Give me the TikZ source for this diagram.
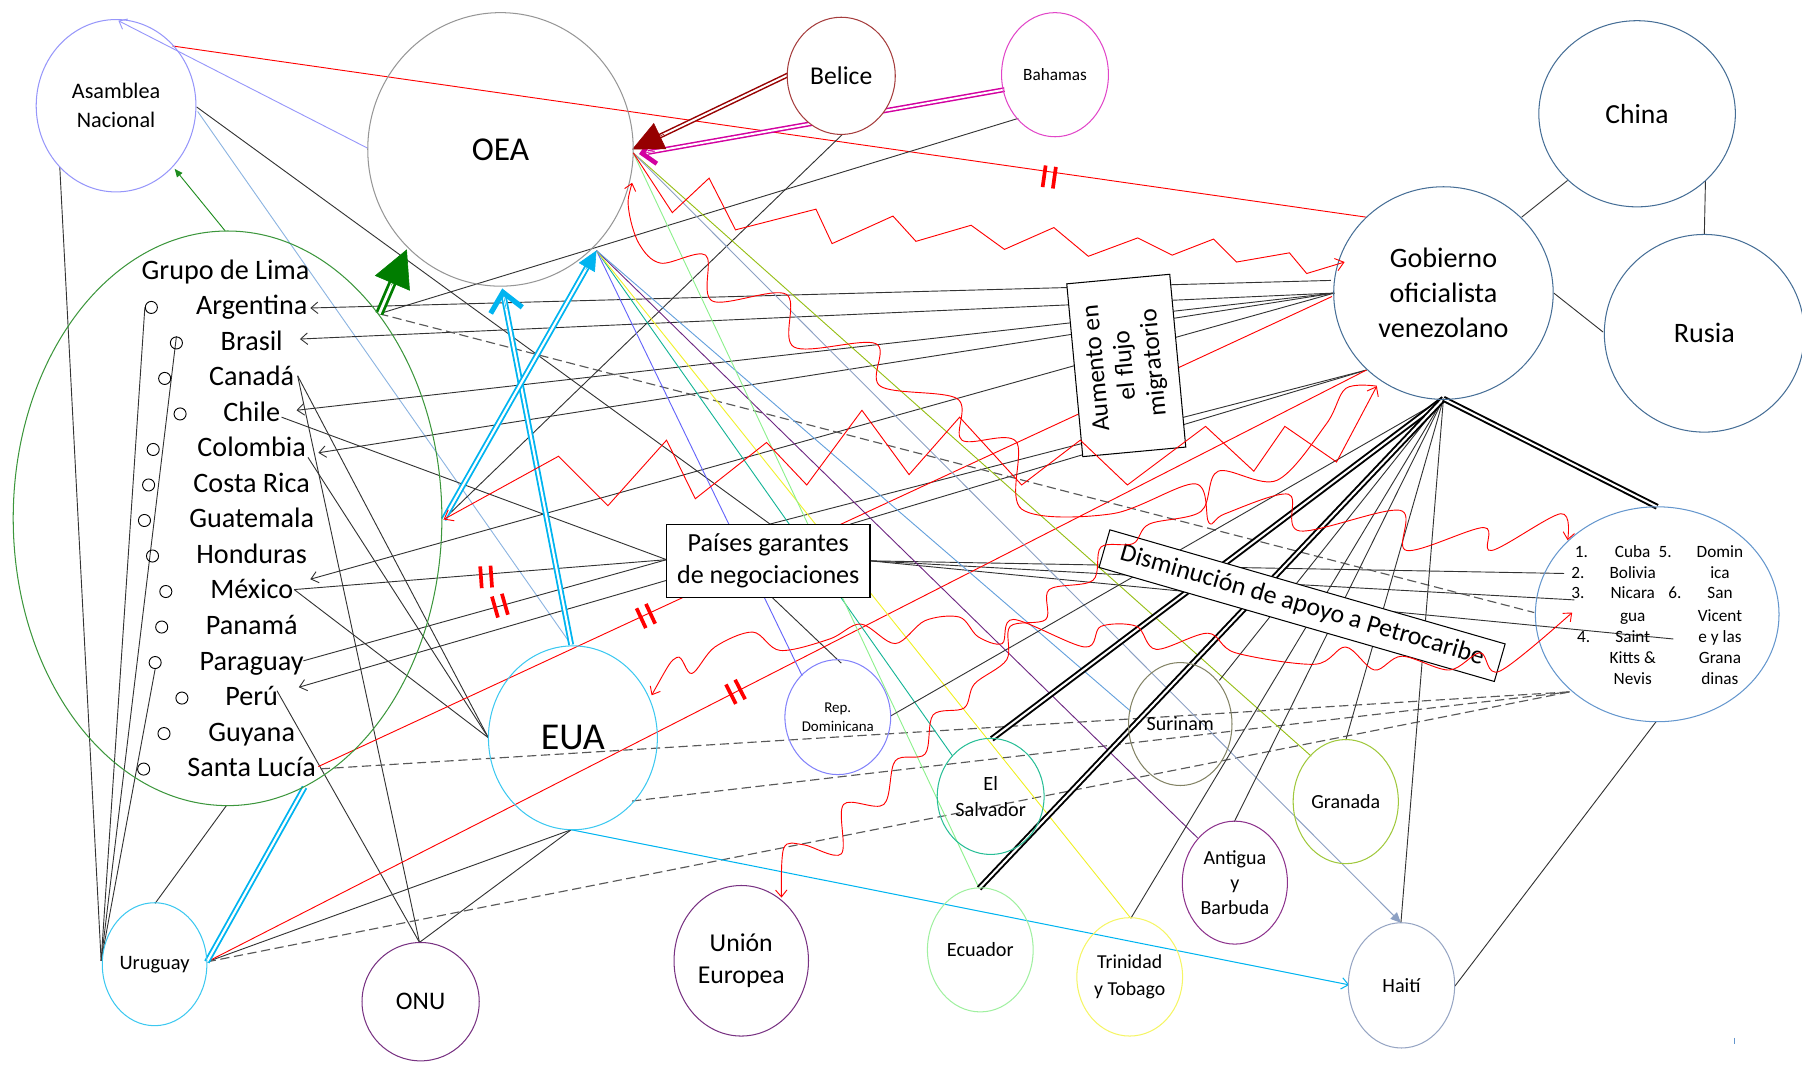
\documentclass[tikz,border=0pt]{standalone}
\usepackage{fontspec}
\setmainfont{Carlito}
\usetikzlibrary{shapes.geometric,arrows.meta,calc}
\pgfdeclarelayer{bg}
\pgfdeclarelayer{fg}
\pgfsetlayers{bg,main,fg}
\newcommand\fsz[2]{\fontsize{#1}{#2}\selectfont}
\definecolor{asamc}{RGB}{150,150,250}
\definecolor{oeac}{RGB}{150,150,150}
\definecolor{belc}{RGB}{165,60,60}
\definecolor{bahc}{RGB}{225,70,200}
\definecolor{govc}{RGB}{70,110,150}
\definecolor{petc}{RGB}{100,150,205}
\definecolor{grupoc}{RGB}{60,150,60}
\definecolor{euac}{RGB}{60,200,240}
\definecolor{repc}{RGB}{130,130,250}
\definecolor{elsc}{RGB}{40,190,150}
\definecolor{surc}{RGB}{130,130,100}
\definecolor{grac}{RGB}{160,200,60}
\definecolor{antc}{RGB}{140,50,140}
\definecolor{ecuc}{RGB}{160,240,160}
\definecolor{tric}{RGB}{245,245,100}
\definecolor{haic}{RGB}{150,165,195}
\definecolor{uec}{RGB}{120,50,130}
\definecolor{lav}{RGB}{150,150,250}
\definecolor{lblueL}{RGB}{140,180,225}
\definecolor{blueL}{RGB}{100,100,250}
\definecolor{tealL}{RGB}{20,180,150}
\definecolor{yelL}{RGB}{240,240,40}
\definecolor{purL}{RGB}{110,40,130}
\definecolor{steelL}{RGB}{100,160,220}
\definecolor{lgreenL}{RGB}{140,240,140}
\definecolor{ygreenL}{RGB}{150,190,20}
\definecolor{gblueL}{RGB}{140,160,195}
\definecolor{cyanL}{RGB}{0,180,240}
\definecolor{darkred}{RGB}{150,0,0}
\definecolor{mag}{RGB}{210,0,160}
\definecolor{dgreen}{RGB}{0,125,0}
\definecolor{lgreen}{RGB}{30,140,30}
\begin{document}
\begin{tikzpicture}[x=1pt,y=-1pt,
  ell/.style={ellipse, draw, line width=0.9pt, inner sep=0pt, align=center},
  box/.style={rectangle, draw, fill=white, line width=0.9pt, inner sep=0pt, align=center},
  ln/.style={draw=black!80, line width=0.8pt},
  redl/.style={draw=red, line width=0.8pt},
  dashln/.style={draw=black!65, line width=1pt, dash pattern=on 8pt off 4pt},
  dblS/.style={double=white, line width=1.3pt, double distance=1.7pt},
  dblC/.style={double=white, line width=1.6pt, double distance=1.9pt},
  dblk/.style={draw=black, double=white, line width=1.7pt, double distance=1.8pt},
  barb/.style={-{Straight Barb[length=6pt,width=10pt]}},
  bbarb/.style={{Straight Barb[length=6pt,width=10pt]}-{Straight Barb[length=6pt,width=10pt]}},
  hh/.pic={\draw[red, line width=3.2pt] (-4.5,-9.5) -- (-4.5,9.5) (4.5,-9.5) -- (4.5,9.5);}
]
\useasboundingbox (0,0) rectangle (1568,926);

% ---------- nodes ----------
\node[ell, draw=asamc, minimum width=139pt, minimum height=150pt, font=\fsz{19.3}{25}] (asam) at (101,92) {Asamblea\\Nacional};
\node[ell, draw=oeac, minimum width=231pt, minimum height=238pt, font=\fsz{29}{34}] (oea) at (435.5,130) {OEA};
\node[ell, draw=belc, fill=white, minimum width=94pt, minimum height=102pt, font=\fsz{22.3}{27}] (bel) at (732,66) {Belice};
\node[ell, draw=bahc, minimum width=93pt, minimum height=108pt, font=\fsz{15}{18}] (bah) at (918,65) {Bahamas};
\node[ell, draw=govc, minimum width=171pt, minimum height=162pt, font=\fsz{24}{29}] (china) at (1424.5,99) {China};
\node[ell, draw=govc, minimum width=174pt, minimum height=172pt, font=\fsz{24.5}{29}] (rusia) at (1483,290) {Rusia};
\node[ell, draw=govc, minimum width=191pt, minimum height=185pt, font=\fsz{24.5}{30.5}] (gob) at (1256,255) {Gobierno\\oficialista\\venezolano};
\node[ell, draw=petc, minimum width=212pt, minimum height=187pt] (petro) at (1442,534.5) {};
\node[ell, draw=grupoc, minimum width=373pt, minimum height=500pt] (grupo) at (198,451) {};
\node[ell, draw=euac, minimum width=147pt, minimum height=160pt, font=\fsz{33}{38}] (eua) at (498.5,642) {EUA};
\node[ell, draw=repc, minimum width=92pt, minimum height=100pt, font=\fsz{13}{17}] (repdom) at (729,624) {Rep.\\Dominicana};
\node[ell, draw=elsc, minimum width=93pt, minimum height=101pt, font=\fsz{17.6}{22}] (elsal) at (862,693) {El\\Salvador};
\node[ell, draw=surc, minimum width=90pt, minimum height=107pt, font=\fsz{17.4}{21}] (surinam) at (1027,630) {Surinam};
\node[ell, draw=grac, minimum width=91.5pt, minimum height=108pt, font=\fsz{17.4}{21}] (granada) at (1171,697.5) {Granada};
\node[ell, draw=antc, minimum width=91.5pt, minimum height=107pt, font=\fsz{17.4}{21.5}] (antigua) at (1074.5,768) {Antigua\\y\\Barbuda};
\node[ell, draw=ecuc, minimum width=92pt, minimum height=108pt, font=\fsz{17.6}{21}] (ecuador) at (853,826.5) {Ecuador};
\node[ell, draw=tric, minimum width=92pt, minimum height=103pt, font=\fsz{17.2}{23}] (trinidad) at (983,850) {Trinidad\\y Tobago};
\node[ell, draw=haic, minimum width=92.5pt, minimum height=109pt, font=\fsz{17.6}{21}] (haiti) at (1219.5,857.4) {Haití};
\node[ell, draw=uec, minimum width=117pt, minimum height=131pt, font=\fsz{22.4}{28}] (ue) at (645,836) {Unión\\Europea};
\node[ell, draw=uec, minimum width=102pt, minimum height=103pt, font=\fsz{22}{26}] (onu) at (366,871.6) {ONU};
\node[ell, draw=euac, minimum width=91pt, minimum height=107pt, font=\fsz{17.8}{21}] (uru) at (134.5,839) {Uruguay};

\node[box, minimum width=177pt, minimum height=64pt, font=\fsz{22.7}{28}] (pg) at (668.5,488) {Países garantes\\de negociaciones};
\node[box, rotate=95.3, minimum width=151pt, minimum height=90pt, font=\fsz{22}{25}] (aum) at (980,318) {Aumento en\\el flujo\\migratorio};
\node[box, rotate=-16.1, minimum width=358pt, minimum height=34pt, font=\fsz{22.5}{27}] (dism) at (1133,527) {Disminución de apoyo a Petrocaribe};

\node[anchor=base, font=\fsz{24.5}{29}, inner sep=0pt] (gtitle) at (196.3,243) {Grupo de Lima};
\foreach \t/\cx [count=\i] in {Argentina/131.7, Brasil/153.5, Canadá/143.3, Chile/156.7, Colombia/133.3, Costa Rica/129.3, Guatemala/125.7, Honduras/132.7, México/144.3, Panamá/140.7, Paraguay/135, Perú/158.3, Guyana/142.7, Santa Lucía/125}{
  \pgfmathsetmacro\yy{266+30.9*(\i-1)}
  \node[anchor=base, font=\fsz{24.5}{29}, inner sep=0pt] (l\i) at (219,\yy+8) {\t};
  \node[circle, draw, line width=0.8pt, minimum size=10.5pt, inner sep=0pt] (c\i) at (\cx,\yy+1.5) {};
}
\foreach \t/\x/\y [count=\i] in {1./1376/480, Cuba/1420.7/480, 5./1449/480, Domin/1496.6/480,
  2./1373/498, Bolivia/1420.7/498, ica/1496.6/498,
  3./1373/516, Nicara/1420.7/516, 6./1457.5/516, San/1496.6/516,
  gua/1420.7/535.6, Vicent/1496.6/535.6,
  4./1378/554, Saint/1420.7/554, e y las/1496.6/554,
  Kitts \&/1420.7/572, Grana/1496.6/572,
  Nevis/1420.7/591, dinas/1496.6/591}{
  \node[anchor=base, font=\fsz{15}{18}, inner sep=0pt] (pt\i) at (\x,\y+5) {\t};
}

% ---------- attachment points ----------
\coordinate (asTop) at (103,18);
\coordinate (asR1) at (150,40);
\coordinate (asR2) at (171,93);
\coordinate (asR3) at (172,97);
\coordinate (asBL) at (52,145);
\coordinate (asB) at (152,147);
\coordinate (oeaL) at (320,129);
\coordinate (oeaR) at (551,133);
\coordinate (oeaB) at (519,218);
\coordinate (oeaBot) at (437,251);
\coordinate (oeaW) at (550,159);
\coordinate (oeaG) at (354,217);
\coordinate (oeaM) at (556,134);
\coordinate (oeaD) at (550,130);
\coordinate (belL) at (686,65);
\coordinate (belB) at (733,117);
\coordinate (bahL) at (874,78);
\coordinate (bahBL) at (886,103);
\coordinate (grTop) at (196,201);
\coordinate (grA) at (330,273);
\coordinate (grR) at (386,452);
\coordinate (grBot) at (197,701);
\coordinate (grBR) at (265,685);
\coordinate (uruL) at (88,836);
\coordinate (uruTop) at (135,786);
\coordinate (uruR) at (180,837);
\coordinate (euaTop) at (497,561);
\coordinate (euaL) at (425,642);
\coordinate (euaBot) at (497,722);
\coordinate (euaBR) at (550,697);
\coordinate (euaW) at (567,605);
\coordinate (onuTop) at (365,820);
\coordinate (gobA) at (1189,189);
\coordinate (gobZ) at (1170,228);
\coordinate (gobG1a) at (1158,244);
\coordinate (gobG1) at (1161,255);
\coordinate (gobR) at (1159,258);
\coordinate (gobG2) at (1189,322);
\coordinate (gobW) at (1198,336);
\coordinate (H) at (1256,347);
\coordinate (gobC) at (1324,189);
\coordinate (gobRu) at (1352,255);
\coordinate (chinaG) at (1364,157);
\coordinate (chinaR) at (1484,157);
\coordinate (rusiaC) at (1483,204);
\coordinate (rusiaG) at (1395,289);
\coordinate (petTop) at (1442,441);
\coordinate (petL) at (1335,533);
\coordinate (petBL) at (1366,602);
\coordinate (petBot) at (1441,628);
\coordinate (pet2) at (1361,499);
\coordinate (pet3) at (1370,522);
\coordinate (pet4) at (1456,556);
\coordinate (petW1) at (1364,470);
\coordinate (petW2) at (1368,533);
\coordinate (pgTop1) at (670,456);
\coordinate (pgTop2) at (740,456);
\coordinate (pgL) at (580,487);
\coordinate (pgL2) at (580,505);
\coordinate (pgR) at (757,488);
\coordinate (pgBot) at (672,520);
\coordinate (rdTop) at (698,588);
\coordinate (rdTop2) at (732,577);
\coordinate (rdR) at (775,623);
\coordinate (esTop) at (863,643);
\coordinate (esTL) at (829,658);
\coordinate (ecTop) at (852,773);
\coordinate (trTop) at (984,799);
\coordinate (anTL) at (1042,729);
\coordinate (anTop) at (1074,715);
\coordinate (grnTL) at (1141,658);
\coordinate (grnTop) at (1171,644);
\coordinate (suL) at (984,619);
\coordinate (suTR) at (1061,592);
\coordinate (haTop) at (1219,803);
\coordinate (haL) at (1174,857);
\coordinate (haR) at (1266,858);
\coordinate (ueW) at (680,781);
\coordinate (aArg) at (270,268);
\coordinate (aBra) at (261,295);
\coordinate (aChi) at (258,357);
\coordinate (aCol) at (277,394);
\coordinate (aHon) at (270,504);
\coordinate (aPeru) at (260,598);
\coordinate (chiS) at (245,363);
\coordinate (canS) at (259,327);
\coordinate (colS) at (268,398);
\coordinate (mexS) at (256,513);
\coordinate (parS) at (264,575);
\coordinate (peruS) at (241,601);
\coordinate (slE) at (277,667);
\coordinate (slE2) at (279,669);

% ---------- background connectors ----------
\begin{pgfonlayer}{bg}
\draw[lav, line width=0.8pt, barb] (oeaL) -- (asTop);
\draw[redl] (asR1) -- (gobA);
\draw[ln] (asR2) -- (pgTop1);
\draw[lblueL, line width=0.8pt] (asR3) -- (euaTop);
\draw[ln] (asBL) -- (uruL);
\draw[lgreen, line width=0.8pt, -{Triangle[length=7pt,width=6pt]}] (grTop) -- (asB);
\draw[ln] (c1.west) -- (uruL);
\draw[ln] (c2.north) -- (uruL);
\draw[ln] (c11.south) -- (uruL);
% Gobierno fan to list
\draw[ln, barb] (gobG1a) -- (aArg);
\draw[ln, barb] (gobG1) -- (aBra);
\draw[ln, barb] (gobG1) -- (aChi);
\draw[ln, barb] (gobG1) -- (aCol);
\draw[ln, barb] (gobG1) -- (aHon);
% Paises box
\draw[ln] (chiS) -- (pgL);
\draw[ln] (mexS) -- (pgL);
\draw[ln] (parS) -- (pgL);
\draw[ln, barb] (pgL2) -- (aPeru);
\draw[ln] (pgTop1) -- (gobG2);
\draw[ln] (pgTop2) -- (gobG2);
\draw[ln] (pgBot) -- (rdTop2);
\draw[ln] (pgR) -- (pet2);
\draw[ln] (pgR) -- (pet3);
\draw[ln] (pgR) -- (pet4);
% list to EUA / ONU
\draw[ln] (canS) -- (euaL);
\draw[ln] (colS) -- (euaL);
\draw[ln] (mexS) -- (euaL);
\draw[ln] (canS) -- (onuTop);
\draw[ln] (peruS) -- (onuTop);
\draw[ln] (euaBot) -- (onuTop);
\draw[ln] (euaBot) -- (uruR);
\draw[ln] (grBot) -- (uruTop);
% red straight
\draw[redl] (slE) -- (gobR);
\draw[redl] (uruR) -- (gobG2);
% dashed
\draw[dashln] (grA) -- (petL);
\draw[dashln] (slE2) -- (petBL);
\draw[dashln] (euaBR) -- (petBL);
\draw[dashln] (uruR) -- (petBL);
% Bahamas, Belice
\draw[ln] (bahBL) -- (grA);
\draw[ln] (belB) -- (grR);
% OEA fans
\draw[blueL, line width=0.8pt] (oeaB) -- (rdTop);
\draw[tealL, line width=0.8pt] (oeaB) -- (esTL);
\draw[yelL, line width=0.8pt] (oeaB) -- (trTop);
\draw[purL, line width=0.8pt] (oeaB) -- (anTL);
\draw[steelL, line width=0.8pt] (oeaB) -- (suL);
\draw[lgreenL, line width=0.8pt] (oeaR) -- (ecTop);
\draw[ygreenL, line width=0.8pt] (oeaR) -- (grnTL);
\draw[gblueL, line width=0.8pt, -{Triangle[length=9pt,width=8pt]}] (oeaR) -- (haTop);
% double arrows
\draw[mag, dblS, shorten >=8pt] (bahL) -- (oeaM);
\draw[mag, line width=0.5pt, -{Straight Barb[length=11pt,width=22pt,line width=4pt]}] ($(oeaM)!14pt!(bahL)$) -- (oeaM);
\draw[darkred, dblS, shorten >=20pt] (belL) -- (oeaD);
\draw[darkred, line width=0.5pt, -{Triangle[length=27pt,width=25pt]}] ($(oeaD)!31pt!(belL)$) -- (oeaD);
\draw[dgreen, double=white, line width=2.4pt, double distance=2.4pt, shorten >=28pt] (grA) -- (oeaG);
\draw[dgreen, line width=0.5pt, -{Triangle[length=32pt,width=33pt]}] ($(oeaG)!34pt!(grA)$) -- (oeaG);
\draw[cyanL, dblC, shorten >=3pt] (euaTop) -- (oeaBot);
\draw[cyanL, line width=0.5pt, -{Straight Barb[length=16pt,width=28pt,line width=4.5pt]}] ($(oeaBot)!18pt!(euaTop)$) -- (oeaBot);
\draw[cyanL, dblC, shorten >=14pt] (grR) -- (oeaB);
\draw[cyanL, line width=0.5pt, -{Triangle[length=17pt,width=16pt]}] ($(oeaB)!19pt!(grR)$) -- (oeaB);
\draw[cyanL, dblC] (uruR) -- (grBR);
% hub fan
\draw[ln] (H) -- (rdR);
\draw[ln] (H) -- (suTR);
\draw[ln] (H) -- (anTop);
\draw[ln] (H) -- (trTop);
\draw[ln] (H) -- (grnTop);
\draw[ln] (H) -- (haTop);
\draw[dblk] (H) -- (esTop);
\draw[dblk] (H) -- (ecTop);
\draw[dblk] (H) -- (petTop);
% others
\draw[ln] (haR) -- (petBot);
\draw[cyanL, line width=0.9pt, barb] (euaBot) -- (haL);
\draw[ln] (gobC) -- (chinaG);
\draw[ln] (chinaR) -- (rusiaC);
\draw[ln] (gobRu) -- (rusiaG);
\end{pgfonlayer}

% ---------- foreground: red zigzags, waves, marks ----------
\begin{pgfonlayer}{fg}
\draw[redl, -{Straight Barb[length=7pt,width=11pt]}] (oeaR) -- (585,185) -- (617,155) -- (640,200) -- (710,182) -- (724,212) -- (777,188) -- (797,210) -- (845,196) -- (874,217) -- (917,198) -- (947,223) -- (990,207) -- (1020,222) -- (1056,208) -- (1076,228) -- (1122,220) -- (1137,238) -- (gobZ);
\draw[redl, {Straight Barb[length=7pt,width=11pt]}-{Straight Barb[length=7pt,width=11pt]}] (gobW) -- (1163,402) -- (1118,371) -- (1091,410) -- (1049,371) -- (981,422) -- (940,383) -- (889,422) -- (835,363) -- (791,413) -- (750,357) -- (702,422) -- (667,385) -- (605,434) -- (580,383) -- (529,440) -- (486,397) -- (grR);
\draw[redl, bbarb] plot[smooth, tension=0.55] coordinates {(oeaW) (547,182) (556,212) (575,229) (614,222) (620,262) (684,256) (691,302) (762,299) (766,336) (833,347) (837,383) (884,384) (889,443) (968,447) (1040,421) (1052,455) (1066,447) (1121,430) (1131,462) (1218,444) (1224,479) (1291,459) (1298,479) (1358,447) (petW1)};
\draw[redl, barb] plot[smooth, tension=0.55] coordinates {(gobW) (1171,338) (1154,369) (1111,418) (1060,410) (1045,445) (1000,456) (986,473) (958,476) (951,505) (913,513) (910,539) (879,545) (876,574) (848,595) (839,616) (812,622) (805,656) (779,662) (769,700) (734,700) (732,743) (699,735) (682,738) (ueW)};
\draw[redl, bbarb] plot[smooth, tension=0.55] coordinates {(euaW) (589,572) (602,586) (622,563) (655,550) (679,566) (722,556) (749,543) (779,560) (805,540) (835,537) (851,554) (872,560) (882,539) (944,563) (958,545) (989,545) (1006,565) (1051,551) (1075,568) (1144,578) (1171,563) (1196,583) (1220,571) (1261,583) (1288,568) (1305,584) (petW2)};
\pic[rotate=-8] at (913,154) {hh};
\pic[rotate=4] at (423,502) {hh};
\pic[rotate=16] at (435,527) {hh};
\pic[rotate=25] at (562,536) {hh};
\pic[rotate=27] at (640,602) {hh};
\draw[petc, line width=1pt] (1509,903) -- (1509,908);
\end{pgfonlayer}
\end{tikzpicture}
\end{document}
